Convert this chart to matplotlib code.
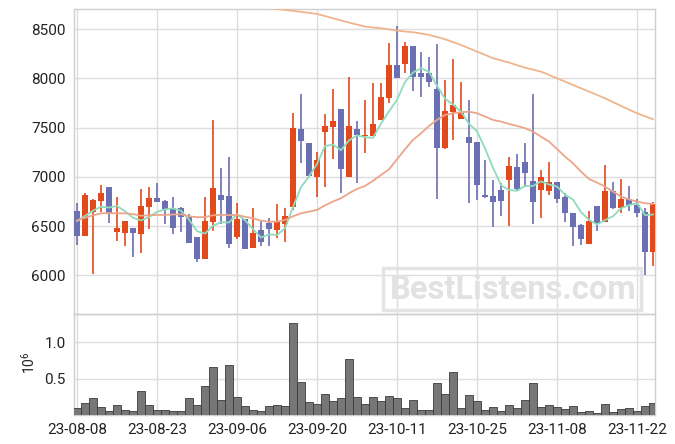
import numpy as np
import matplotlib
matplotlib.use("Agg")
import matplotlib.pyplot as plt
from matplotlib.patches import Rectangle

plt.rcParams['font.family'] = ['Roboto', 'DejaVu Sans']
plt.rcParams['mathtext.fontset'] = 'custom'
plt.rcParams['mathtext.rm'] = 'Roboto'

# trading days (KRX), 23-08-08 .. 23-11-24
dates = ['23-08-08', '23-08-09', '23-08-10', '23-08-11', '23-08-14', '23-08-16', '23-08-17',
         '23-08-18', '23-08-21', '23-08-22', '23-08-23', '23-08-24', '23-08-25', '23-08-28',
         '23-08-29', '23-08-30', '23-08-31', '23-09-01', '23-09-04', '23-09-05', '23-09-06',
         '23-09-07', '23-09-08', '23-09-11', '23-09-12', '23-09-13', '23-09-14', '23-09-15',
         '23-09-18', '23-09-19', '23-09-20', '23-09-21', '23-09-22', '23-09-25', '23-09-26',
         '23-09-27', '23-10-04', '23-10-05', '23-10-06', '23-10-10', '23-10-11', '23-10-12',
         '23-10-13', '23-10-16', '23-10-17', '23-10-18', '23-10-19', '23-10-20', '23-10-23',
         '23-10-24', '23-10-25', '23-10-26', '23-10-27', '23-10-30', '23-10-31', '23-11-01',
         '23-11-02', '23-11-03', '23-11-06', '23-11-07', '23-11-08', '23-11-09', '23-11-10',
         '23-11-13', '23-11-14', '23-11-15', '23-11-16', '23-11-17', '23-11-20', '23-11-21',
         '23-11-22', '23-11-23', '23-11-24']

opens = [6654, 6403, 6647, 6759, 6898, 6444, 6434, 6481, 6424, 6698,
         6786, 6756, 6681, 6681, 6593, 6390, 6163, 6545, 6817, 6803,
         6393, 6573, 6281, 6461, 6529, 6457, 6518, 6698, 7484, 7342,
         7003, 7460, 7511, 7691, 7003, 7484, 7413, 7420, 7579, 7806,
         8138, 8151, 8331, 8053, 8053, 7894, 7298, 7663, 7586, 7406,
         7359, 6817, 6806, 6867, 6969, 7098, 7149, 6959, 6867, 6857,
         6949, 6793, 6630, 6512, 6315, 6705, 6545, 6857, 6681, 6772,
         6715, 6644, 6241]
highs = [6732, 6833, 6776, 6918, 6898, 6793, 6552, 6481, 6874, 6894,
         6938, 6766, 6793, 6691, 6620, 6390, 6793, 7575, 7088, 7199,
         6732, 6573, 6681, 6556, 6579, 6722, 6681, 7647, 7846, 7342,
         7257, 7636, 7890, 7691, 8012, 7572, 7782, 7951, 7951, 8358,
         8534, 8375, 8331, 8273, 8216, 8348, 7985, 8195, 7965, 7782,
         7359, 7172, 6969, 6942, 7206, 7230, 7342, 7840, 7071, 7149,
         6949, 6833, 6630, 6518, 6657, 6705, 7118, 6952, 6976, 6911,
         6776, 6681, 6749]
lows = [6308, 6403, 6014, 6647, 6535, 6349, 6302, 6190, 6224, 6474,
        6740, 6518, 6417, 6437, 6332, 6132, 6163, 6451, 6522, 6274,
        6373, 6264, 6281, 6298, 6298, 6376, 6342, 6664, 7138, 7013,
        6796, 6894, 7179, 6833, 7003, 6942, 7240, 7420, 7579, 7755,
        8009, 8053, 7874, 7809, 7911, 6772, 7284, 7376, 7586, 6732,
        6766, 6790, 6495, 6603, 6501, 6861, 6894, 6518, 6579, 6817,
        6732, 6539, 6298, 6308, 6315, 6451, 6545, 6674, 6630, 6657,
        6596, 6000, 6098]
closes = [6403, 6817, 6766, 6840, 6620, 6481, 6552, 6434, 6705, 6786,
          6749, 6678, 6484, 6590, 6332, 6163, 6552, 6884, 6769, 6315,
          6573, 6264, 6427, 6342, 6474, 6542, 6603, 7497, 7369, 7013,
          7172, 7518, 7569, 7084, 7514, 7423, 7427, 7535, 7809, 8138,
          8009, 8331, 8019, 8019, 7962, 7298, 7670, 7731, 7653, 7348,
          6918, 6800, 6749, 6759, 7111, 6877, 7043, 6749, 6996, 6949,
          6776, 6630, 6495, 6366, 6552, 6535, 6857, 6688, 6772, 6715,
          6637, 6241, 6725]

# moving averages
ma5 = [6552, 6603, 6657, 6697, 6689, 6705, 6652, 6585, 6558, 6592,
       6645, 6670, 6680, 6657, 6567, 6449, 6424, 6504, 6540, 6537,
       6619, 6561, 6470, 6384, 6416, 6410, 6478, 6692, 6897, 7005,
       7131, 7314, 7328, 7271, 7371, 7422, 7403, 7397, 7542, 7666,
       7784, 7964, 8061, 8103, 8068, 7926, 7794, 7736, 7663, 7540,
       7464, 7290, 7094, 6915, 6867, 6859, 6908, 6908, 6955, 6923,
       6903, 6820, 6769, 6643, 6564, 6516, 6561, 6600, 6681, 6713,
       6734, 6611, 6618]
ma20 = [6556, 6585, 6610, 6630, 6632, 6630, 6630, 6622, 6605, 6610,
        6613, 6615, 6618, 6620, 6600, 6590, 6592, 6610, 6615, 6612,
        6613, 6595, 6579, 6555, 6545, 6545, 6562, 6600, 6630, 6647,
        6665, 6710, 6750, 6783, 6834, 6878, 6908, 6960, 7020, 7077,
        7179, 7281, 7376, 7443, 7518, 7579, 7630, 7647, 7657, 7663,
        7647, 7613, 7579, 7562, 7538, 7518, 7495, 7460, 7409, 7359,
        7284, 7206, 7138, 7054, 6979, 6942, 6901, 6851, 6800, 6772,
        6749, 6732, 6725]
nan = np.nan
ma60 = [nan] * 23 + [
        8725, 8715, 8707, 8697, 8687, 8677, 8667,
        8656, 8634, 8612, 8590, 8568, 8548, 8527, 8518, 8511, 8499,
        8487, 8478, 8470, 8457, 8443, 8421, 8399, 8370, 8341, 8307,
        8273, 8240, 8206, 8184, 8162, 8135, 8110, 8090, 8070, 8036,
        8002, 7968, 7934, 7900, 7867, 7833, 7799, 7760, 7721, 7684,
        7647, 7616, 7586]

volume = [0.099, 0.162, 0.234, 0.113, 0.054, 0.135, 0.072, 0.059, 0.329, 0.140,
          0.072, 0.072, 0.059, 0.059, 0.239, 0.140, 0.396, 0.667, 0.207, 0.694,
          0.248, 0.126, 0.072, 0.059, 0.126, 0.140, 0.126, 1.261, 0.450, 0.180,
          0.153, 0.288, 0.194, 0.234, 0.775, 0.248, 0.153, 0.248, 0.194, 0.261,
          0.234, 0.099, 0.207, 0.072, 0.072, 0.437, 0.288, 0.586, 0.099, 0.275,
          0.194, 0.072, 0.113, 0.059, 0.140, 0.099, 0.207, 0.437, 0.113, 0.140,
          0.113, 0.086, 0.126, 0.045, 0.059, 0.027, 0.153, 0.045, 0.086, 0.099,
          0.059, 0.126, 0.167]

up_color = '#E24A1B'
down_color = '#6B70B2'
grid_color = '#dedede'
spine_color = '#cfcfcf'

x = np.arange(len(dates))
o = np.array(opens)
c = np.array(closes)
up = c >= o
colors = np.where(up, up_color, down_color)

fig = plt.figure(figsize=(6.75, 4.44), dpi=100)
ax = fig.add_axes([74 / 675, 1 - 314 / 444, 581 / 675, 304.7 / 444])
axv = fig.add_axes([74 / 675, 1 - 415 / 444, 581 / 675, 101 / 444], sharex=ax)

# watermark
fig.text(513 / 675, 1 - 290 / 444, 'BestListens.com', fontsize=23.5, fontweight='bold',
         color='#e2e2e2', ha='center', va='center', zorder=0)
fig.patches.append(Rectangle((383 / 675, 1 - 310 / 444), 258 / 675, 42 / 444,
                             transform=fig.transFigure, fill=False,
                             ec='#e4e4e4', lw=2.5, zorder=0))

# candles
ax.vlines(x, lows, highs, colors=colors, lw=1.2, zorder=3)
body = np.maximum(np.abs(c - o), 8)
ax.bar(x, body, bottom=np.minimum(o, c), width=0.72, color=colors, zorder=4)

ax.plot(x, ma5, color='#8fdbbe', lw=1.3, zorder=5)
ax.plot(x, ma20, color='#eca58a', lw=1.3, zorder=5)
ax.plot(x, ma60, color='#efb58c', lw=1.3, zorder=5)

ax.set_ylim(5607, 8703)
ax.set_yticks([6000, 6500, 7000, 7500, 8000, 8500])
ax.set_xlim(-0.375, 72.25)

axv.bar(x, volume, width=1.0, color='#777777', edgecolor='#3a3a3a', lw=0.6, zorder=3)
axv.set_ylim(0, 1.39)
axv.set_yticks([0.5, 1.0])
axv.set_yticklabels(['0.5', '1.0'])
axv.set_ylabel(r'$10^6$', fontsize=10, color='#222222')
axv.yaxis.set_label_coords(-0.062, 0.52)

ticks = list(range(0, len(dates), 10))
axv.set_xticks(ticks)
axv.set_xticklabels([dates[i] for i in ticks])

for a in (ax, axv):
    a.set_facecolor('none')
    a.grid(True, color=grid_color, lw=1.0, zorder=0)
    a.set_axisbelow(True)
    a.tick_params(length=0, labelsize=11, colors='#222222', pad=6)
    for s in a.spines.values():
        s.set_color(spine_color)
        s.set_linewidth(1.0)
plt.setp(ax.get_xticklabels(), visible=False)

fig.savefig('out.png', dpi=100)
